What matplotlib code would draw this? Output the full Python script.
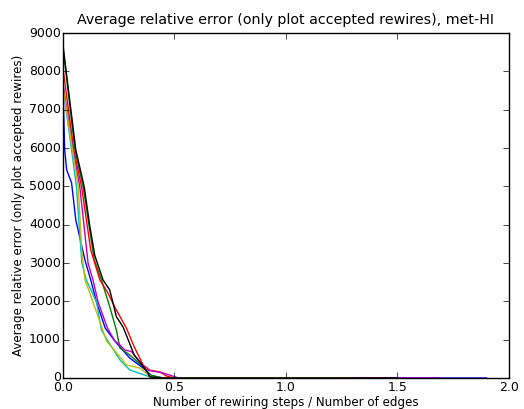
import matplotlib
matplotlib.use("Agg")
import matplotlib.pyplot as plt

# ratio of rewiring steps to edges vs. average relative error, one run per colour
b_x = [0, 0.008, 0.017, 0.039, 0.058, 0.099, 0.125, 0.151, 0.19, 0.233, 0.256, 0.3, 0.36, 0.4, 0.45, 1.9]
b_y = [7700, 5950, 5430, 5090, 4120, 3080, 2557, 1980, 1300, 965, 810, 520, 260, 50, 0, 0]

g_x = [0, 0.054, 0.091, 0.14, 0.173, 0.21, 0.24, 0.256, 0.3, 0.36, 0.39, 0.45, 1.4]
g_y = [8650, 5950, 4980, 3100, 2557, 1860, 1250, 780, 600, 290, 80, 0, 0]

r_x = [0, 0.049, 0.084, 0.125, 0.166, 0.2, 0.24, 0.285, 0.32, 0.36, 0.39, 0.435, 0.465, 0.5, 1.45]
r_y = [8100, 5950, 4980, 3340, 2557, 2240, 1770, 1300, 810, 340, 200, 160, 50, 0, 0]

c_x = [0, 0.039, 0.061, 0.085, 0.105, 0.151, 0.173, 0.202, 0.256, 0.3, 0.39, 0.42, 1.2]
c_y = [7600, 5950, 4980, 3000, 2557, 1980, 1250, 965, 470, 210, 30, 0, 0]

m_x = [0, 0.046, 0.076, 0.113, 0.135, 0.158, 0.2, 0.233, 0.256, 0.278, 0.308, 0.33, 0.375, 0.45, 0.52, 1.7]
m_y = [7700, 5950, 4980, 3000, 2557, 1980, 1300, 965, 860, 730, 690, 520, 210, 130, 0, 0]

y_x = [0, 0.043, 0.069, 0.085, 0.099, 0.121, 0.135, 0.196, 0.256, 0.285, 0.345, 0.39, 0.42, 1.3]
y_y = [7600, 5950, 4980, 3300, 2557, 2210, 1980, 965, 550, 340, 260, 50, 0, 0]

k_x = [0, 0.058, 0.096, 0.121, 0.143, 0.18, 0.21, 0.24, 0.27, 0.29, 0.32, 0.345, 0.38, 0.39, 0.45, 1.5]
k_y = [8700, 5950, 4980, 3950, 3200, 2557, 2300, 1600, 1330, 1040, 600, 420, 140, 30, 0, 0]

runs = [(b_x, b_y, "b"), (g_x, g_y, "g"), (r_x, r_y, "r"), (c_x, c_y, "c"),
        (m_x, m_y, "m"), (y_x, y_y, "y"), (k_x, k_y, "k")]

plt.style.use("classic")
plt.rcParams["font.family"] = ["DejaVu Sans"]

fig = plt.figure(figsize=(5.24, 4.09), dpi=100, facecolor="white")
ax = fig.add_axes([0.120, 0.0758, 0.851, 0.8435])

for xs, ys, col in runs:
    ax.plot(xs, ys, color=col, linewidth=1.0)

ax.set_xlim(0, 2.0)
ax.set_ylim(0, 9000)
ax.set_xticks([0.0, 0.5, 1.0, 1.5, 2.0])
ax.set_yticks(range(0, 9001, 1000))
ax.tick_params(labelsize=9)
ax.tick_params(axis="y", pad=1.5)
ax.tick_params(axis="x", pad=2.5)

ax.set_title("Average relative error (only plot accepted rewires), met-HI", fontsize=10.3, y=1.005)
ax.set_xlabel("Number of rewiring steps / Number of edges", fontsize=8.6, labelpad=1)
ax.set_ylabel("Average relative error (only plot accepted rewires)", fontsize=8.6, labelpad=3)

fig.savefig("out.png", dpi=100, facecolor="white")
